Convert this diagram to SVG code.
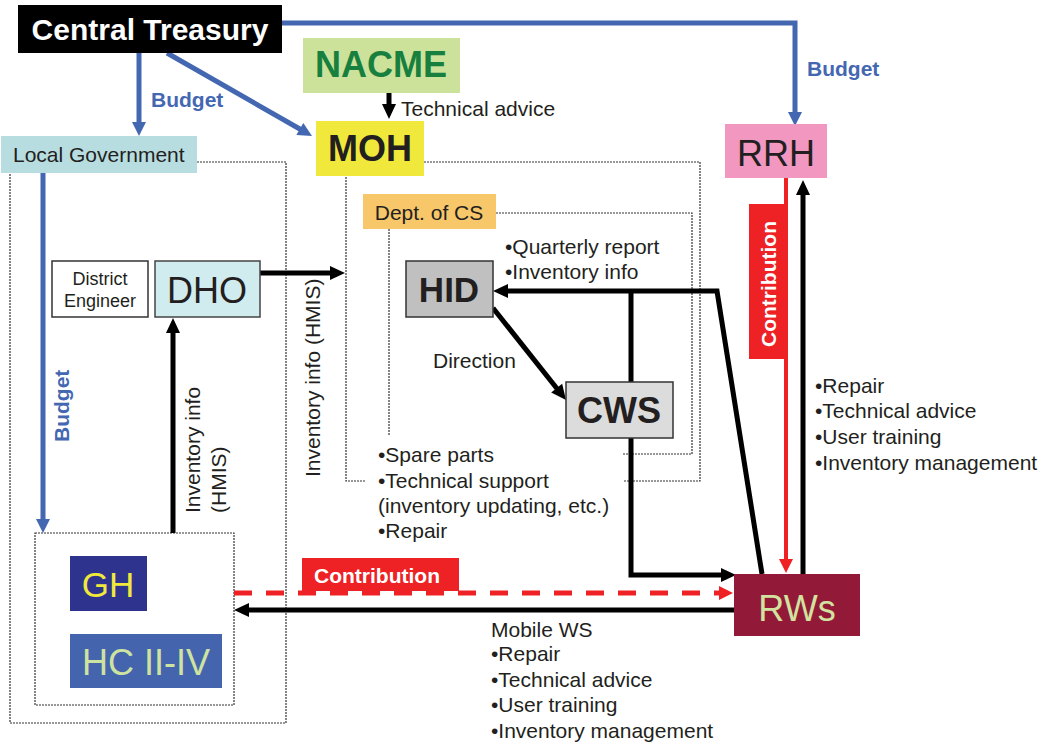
<svg xmlns="http://www.w3.org/2000/svg" width="1048" height="748" viewBox="0 0 1048 748">
  <style>
    .t { font-family: "Liberation Sans", Arial, sans-serif; fill: #231f20; }
    .b { font-weight: bold; }
    .s21 { font-size: 21px; }
    .s18 { font-size: 18px; }
    .big { font-size: 36px; }
    .blue-txt { fill: #4467b2; }
    .white { fill: #ffffff; }
    .dot { fill: none; stroke: #333333; stroke-width: 1.2; stroke-dasharray: 2 1; }
    .lb { fill: none; stroke: #4467b2; stroke-width: 5; }
    .lk { fill: none; stroke: #000000; stroke-width: 5; }
    .lr { fill: none; stroke: #ee2124; stroke-width: 4; }
    .lrd { fill: none; stroke: #ee2124; stroke-width: 5; stroke-dasharray: 18 14; }
  </style>
  <defs>
    <marker id="ab" markerUnits="userSpaceOnUse" viewBox="-1 -8 16 16" refX="0" refY="0" markerWidth="16" markerHeight="16" orient="auto" overflow="visible">
      <path d="M-1,-7 L13,0 L-1,7 z" fill="#4467b2"/>
    </marker>
    <marker id="ak" markerUnits="userSpaceOnUse" viewBox="-1 -8 16 16" refX="0" refY="0" markerWidth="16" markerHeight="16" orient="auto" overflow="visible">
      <path d="M-1,-7 L14,0 L-1,7 z" fill="#000000"/>
    </marker>
    <marker id="ar" markerUnits="userSpaceOnUse" viewBox="-1 -8 16 16" refX="0" refY="0" markerWidth="16" markerHeight="16" orient="auto" overflow="visible">
      <path d="M-1,-7 L13,0 L-1,7 z" fill="#ee2124"/>
    </marker>
  </defs>

  <!-- dotted grouping frames -->
  <g id="frames">
    <path class="dot" d="M197,162 H286 V723 H10 V173"/>
    <rect class="dot" x="35" y="533" width="199" height="172"/>
    <path class="dot" d="M424,162 H700 V481 H623 M365,481 H346 V176"/>
    <path class="dot" d="M496,213 H692 V454 H623 M389,229 V435"/>
  </g>

  <!-- connectors -->
  <g id="connectors">
    <!-- budget flows -->
    <path class="lb" d="M139,53 V123" marker-end="url(#ab)"/>
    <path class="lb" d="M167,53 L300.7,129.5" marker-end="url(#ab)"/>
    <path class="lb" d="M282,23 H795 V113" marker-end="url(#ab)"/>
    <path class="lb" d="M43,173 V520" marker-end="url(#ab)"/>

    <!-- information and service flows -->
    <path class="lk" d="M389,93 V105" marker-end="url(#ak)"/>
    <path class="lk" d="M260,273 H331" marker-end="url(#ak)"/>
    <path class="lk" d="M173,533 V332" marker-end="url(#ak)"/>
    <path class="lk" d="M493,308 L557.3,389" marker-end="url(#ak)"/>
    <path class="lk" d="M762,574 L717,291 H507" marker-end="url(#ak)"/>
    <path class="lk" d="M631,291 V382"/>
    <path class="lk" d="M631,438 V575 H722" marker-end="url(#ak)"/>
    <path class="lk" d="M803,574 V194" marker-end="url(#ak)"/>
    <path class="lk" d="M734,610 H248" marker-end="url(#ak)"/>

    <!-- contributions -->
    <path class="lr" d="M786,178 V560" marker-end="url(#ar)"/>
    <path class="lrd" d="M234,593 H720" marker-end="url(#ar)"/>

    <!-- contribution tags -->
    <rect x="749" y="204" width="39" height="155" fill="#ee2124"/>
    <text class="t b s21 white" transform="translate(776,347) rotate(-90)">Contribution</text>
    <rect x="302" y="558" width="157" height="33" fill="#ee2124"/>
    <text class="t b s21 white" x="314" y="583">Contribution</text>

    <!-- connector labels -->
    <text class="t b s21 blue-txt" x="151" y="107">Budget</text>
    <text class="t b s21 blue-txt" x="807" y="76">Budget</text>
    <text class="t b s21 blue-txt" transform="translate(69,442) rotate(-90)">Budget</text>
    <text class="t s21" x="401" y="116">Technical advice</text>
    <text class="t s21" transform="translate(200,513) rotate(-90)">Inventory info</text>
    <text class="t s21" transform="translate(226,513) rotate(-90)">(HMIS)</text>
    <text class="t s21" transform="translate(320,477) rotate(-90)">Inventory info (HMIS)</text>
    <text class="t s21" x="433" y="368">Direction</text>
    <text class="t s21" x="505" y="254">•Quarterly report</text>
    <text class="t s21" x="505" y="279">•Inventory info</text>
    <text class="t s21" x="378" y="462">•Spare parts</text>
    <text class="t s21" x="378" y="488">•Technical support</text>
    <text class="t s21" x="378" y="513">(inventory updating, etc.)</text>
    <text class="t s21" x="378" y="538">•Repair</text>
    <text class="t s21" x="815" y="393">•Repair</text>
    <text class="t s21" x="815" y="418">•Technical advice</text>
    <text class="t s21" x="815" y="444">•User training</text>
    <text class="t s21" x="815" y="470">•Inventory management</text>
    <text class="t s21" x="491" y="637">Mobile WS</text>
    <text class="t s21" x="491" y="661">•Repair</text>
    <text class="t s21" x="491" y="687">•Technical advice</text>
    <text class="t s21" x="491" y="712">•User training</text>
    <text class="t s21" x="491" y="738">•Inventory management</text>
  </g>

  <!-- nodes -->
  <g id="central-treasury">
    <rect x="18" y="5" width="264" height="48" fill="#000000"/>
    <text class="t b" x="150" y="40" font-size="30" text-anchor="middle" fill="#ffffff" style="fill:#ffffff">Central Treasury</text>
  </g>
  <g id="nacme">
    <rect x="303" y="38" width="157" height="55" fill="#cce29a"/>
    <text class="t b big" x="381" y="77" text-anchor="middle" style="fill:#17803e">NACME</text>
  </g>
  <g id="moh">
    <rect x="316" y="121" width="108" height="55" fill="#f0e93c"/>
    <text class="t b big" x="370" y="161" text-anchor="middle">MOH</text>
  </g>
  <g id="rrh">
    <rect x="725" y="124" width="102" height="54" fill="#f197c0"/>
    <text class="t big" x="776" y="166" text-anchor="middle">RRH</text>
  </g>
  <g id="local-government">
    <rect x="1" y="136" width="196" height="37" fill="#b8dde0"/>
    <text class="t s21" x="13" y="162">Local Government</text>
  </g>
  <g id="district-engineer">
    <rect x="52" y="261" width="96" height="56" fill="#ffffff" stroke="#333333" stroke-width="1.5"/>
    <text class="t s18" x="100" y="285" text-anchor="middle">District</text>
    <text class="t s18" x="100" y="307" text-anchor="middle">Engineer</text>
  </g>
  <g id="dho">
    <rect x="155" y="261" width="105" height="56" fill="#d1ecef" stroke="#444444" stroke-width="1.5"/>
    <text class="t big" x="207" y="303" text-anchor="middle">DHO</text>
  </g>
  <g id="dept-cs">
    <rect x="363" y="194" width="133" height="35" fill="#f8c76a"/>
    <text class="t s21" x="429" y="220" text-anchor="middle">Dept. of CS</text>
  </g>
  <g id="hid">
    <rect x="406" y="261" width="87" height="56" fill="#c0c0c0" stroke="#333333" stroke-width="1.5"/>
    <text class="t b" x="449" y="302" font-size="35" text-anchor="middle">HID</text>
  </g>
  <g id="cws">
    <rect x="566" y="382" width="107" height="56" fill="#dcdcdc" stroke="#333333" stroke-width="1.5"/>
    <text class="t b big" x="619" y="423" text-anchor="middle">CWS</text>
  </g>
  <g id="rws">
    <rect x="734" y="574" width="126" height="62" fill="#921a38"/>
    <text class="t big" x="797" y="621" text-anchor="middle" style="fill:#d2e3a0">RWs</text>
  </g>
  <g id="gh">
    <rect x="70" y="556" width="77" height="55" fill="#2e338e"/>
    <text class="t" x="108" y="597" font-size="35" text-anchor="middle" style="fill:#f0e93c">GH</text>
  </g>
  <g id="hc">
    <rect x="70" y="634" width="152" height="54" fill="#4464ae"/>
    <text class="t big" x="146" y="675" text-anchor="middle" style="fill:#cfe3a0">HC II-IV</text>
  </g>
</svg>
